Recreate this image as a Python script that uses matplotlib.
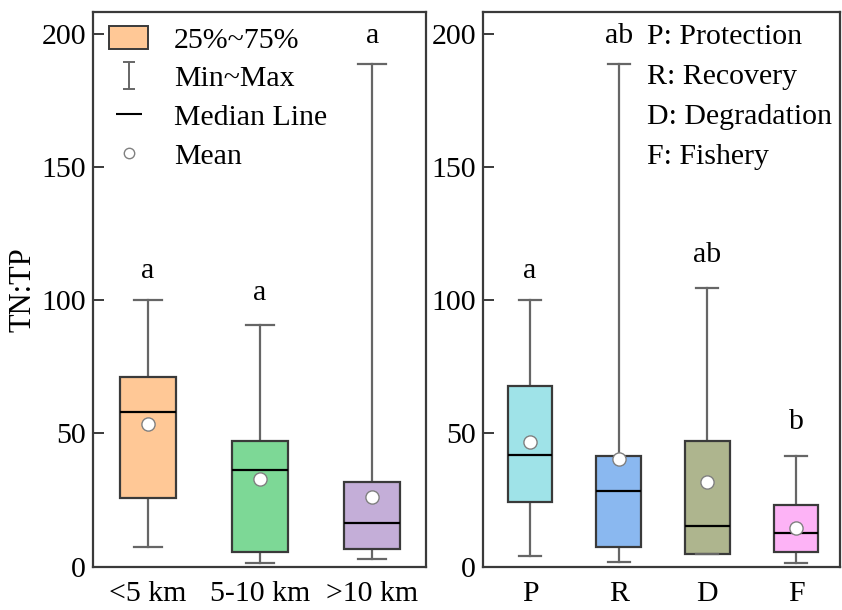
import matplotlib
matplotlib.use("Agg")
import matplotlib.pyplot as plt
from matplotlib.patches import Patch
from matplotlib.lines import Line2D
from matplotlib.legend_handler import HandlerErrorbar

plt.rcParams['font.family'] = ['Liberation Serif', 'DejaVu Serif']
plt.rcParams['font.size'] = 21.5

# Left panel: distance groups
dist_labels = ['<5 km', '5-10 km', '>10 km']
dist_min = [7.5, 1.5, 3.0]
dist_q1 = [25.9, 5.4, 6.5]
dist_med = [58.0, 36.4, 16.4]
dist_q3 = [71.2, 47.1, 31.8]
dist_max = [100.0, 90.5, 188.5]
dist_mean = [53.4, 33.0, 26.0]
dist_letters = ['a', 'a', 'a']
dist_letter_y = [111, 102.5, 199]
dist_colors = ['#FFC896', '#7DD896', '#C4AED8']

# Right panel: land-use types
type_labels = ['P', 'R', 'D', 'F']
type_min = [3.9, 1.9, 4.6, 1.5]
type_q1 = [24.3, 7.4, 4.8, 5.5]
type_med = [41.8, 28.4, 15.3, 12.5]
type_q3 = [67.8, 41.4, 47.3, 23.3]
type_max = [100.0, 188.5, 104.4, 41.6]
type_mean = [46.8, 40.4, 31.9, 14.6]
type_letters = ['a', 'ab', 'ab', 'b']
type_letter_y = [111, 199, 117, 54.3]
type_colors = ['#9FE3E8', '#8AB8F0', '#AEB58E', '#FDB3F6']
type_notes = ['P: Protection', 'R: Recovery', 'D: Degradation', 'F: Fishery']

yticks = [0, 50, 100, 150, 200]

fig = plt.figure(figsize=(8.42, 6.10), dpi=100)
axL = fig.add_axes([0.1105, 0.071, 0.3955, 0.909])
axR = fig.add_axes([0.5736, 0.071, 0.4245, 0.909])

edge = '#3a3a3a'
wcol = '#666666'


def draw(ax, labels, mn, q1, med, q3, mx, mean, colors):
    stats = []
    for i in range(len(labels)):
        stats.append(dict(label=labels[i], whislo=mn[i], q1=q1[i], med=med[i],
                          q3=q3[i], whishi=mx[i], mean=mean[i], fliers=[]))
    pos = list(range(1, len(labels) + 1))
    bp = ax.bxp(stats, positions=pos, widths=0.5, patch_artist=True,
                showmeans=True, showfliers=False, zorder=3,
                boxprops=dict(edgecolor=edge, linewidth=1.6),
                medianprops=dict(color='black', linewidth=1.6),
                whiskerprops=dict(color=wcol, linewidth=1.6),
                capprops=dict(color=wcol, linewidth=1.6),
                meanprops=dict(marker='o', markerfacecolor='white',
                               markeredgecolor='#808080', markersize=9.5,
                               markeredgewidth=1.0))
    for p, c in zip(bp['boxes'], colors):
        p.set_facecolor(c)
    for w in bp['whiskers']:
        w.set_zorder(2)
    for m in bp['means']:
        m.set_zorder(5)
    ax.set_ylim(0, 208)
    ax.set_yticks(yticks)
    ax.tick_params(axis='y', direction='in', length=8, width=1.4, color=edge, pad=5)
    ax.tick_params(axis='x', length=0, pad=10)
    for s in ax.spines.values():
        s.set_color(edge)
        s.set_linewidth(1.6)
    return pos


posL = draw(axL, dist_labels, dist_min, dist_q1, dist_med, dist_q3, dist_max, dist_mean, dist_colors)
axL.set_xlim(0.51, 3.48)
posR = draw(axR, type_labels, type_min, type_q1, type_med, type_q3, type_max, type_mean, type_colors)
axR.set_xlim(0.47, 4.5)

for x, t, y in zip(posL, dist_letters, dist_letter_y):
    axL.text(x, y, t, ha='center', va='center')
for x, t, y in zip(posR, type_letters, type_letter_y):
    axR.text(x, y, t, ha='center', va='center')

axL.set_ylabel('TN:TP', labelpad=2.5, fontsize=22)

# Left legend
eb = axL.errorbar([-10], [-10], yerr=[1], fmt='none', ecolor=wcol, capsize=4,
                  elinewidth=1.4, capthick=1.4)
handles = [Patch(facecolor=dist_colors[0], edgecolor=edge, linewidth=1.4),
           eb,
           Line2D([], [], color='black', marker='_', linestyle='none',
                  markersize=19, markeredgewidth=1.5),
           Line2D([], [], marker='o', linestyle='none', markerfacecolor='white',
                  markeredgecolor='#808080', markersize=7.5)]
leg = axL.legend(handles, ['25%~75%', 'Min~Max', 'Median Line', 'Mean'],
                 loc='upper left', bbox_to_anchor=(0.0, 1.005), frameon=False,
                 handlelength=1.3, handleheight=0.8, labelspacing=0.37,
                 handletextpad=0.85, borderaxespad=0.15, fontsize=21.5,
                 handler_map={type(eb): HandlerErrorbar(yerr_size=0.46)})

# Right notes
for i, t in enumerate(type_notes):
    axR.text(0.459, 0.955 - i * 0.0721, t, transform=axR.transAxes, ha='left', va='center')

fig.savefig('out.png', dpi=100)
